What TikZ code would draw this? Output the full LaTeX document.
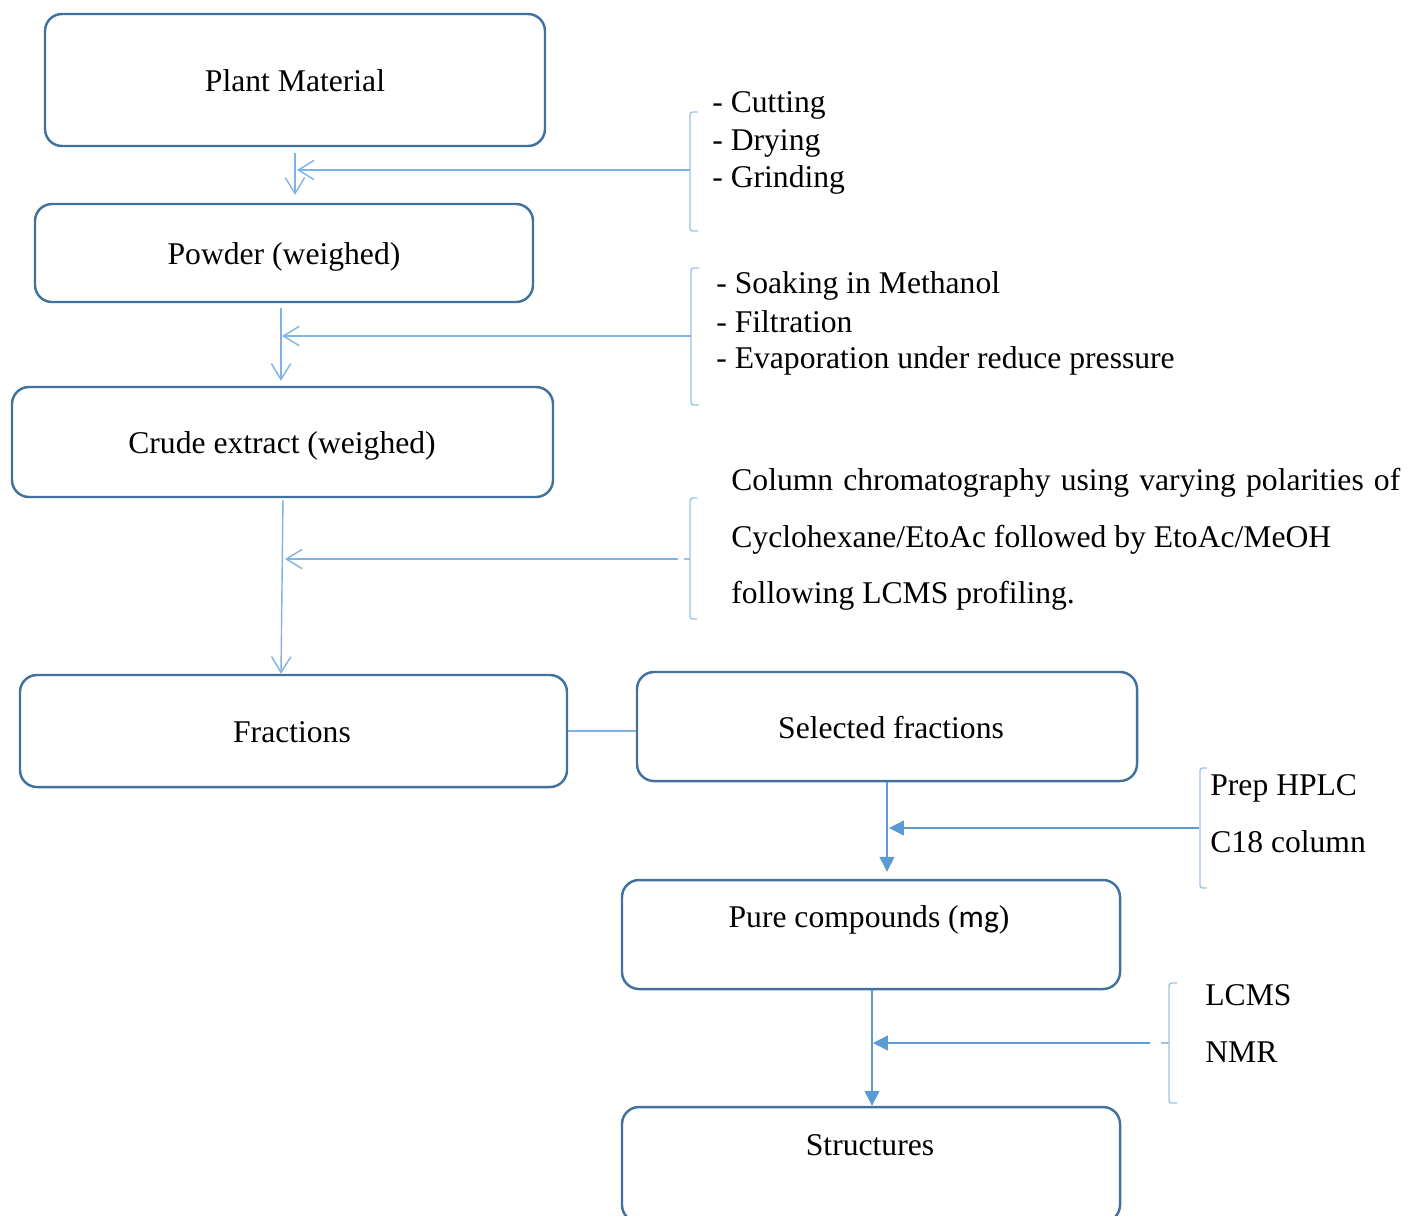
\documentclass[tikz,border=0pt]{standalone}
\usepackage{fontspec}
\setmainfont{Liberation Serif}
\newfontfamily\carl{Carlito}
\usetikzlibrary{arrows.meta,fit}
\definecolor{boxc}{HTML}{41719C}
\definecolor{linec}{HTML}{7FB2E5}
\definecolor{arrc}{HTML}{5B9BD5}
\definecolor{brc}{HTML}{9DC3E6}
\begin{document}
\begin{tikzpicture}[x=0.02cm,y=-0.02cm,
 box/.style={draw=boxc,line width=1.4pt,rounded corners=0.34cm,inner sep=0pt},
 txt/.style={inner sep=0pt,font=\fontsize{18pt}{22pt}\selectfont,text=black},
 openarr/.style={draw=linec,line width=0.8pt,-{Straight Barb[length=9pt,width=11pt]}},
 solidarr/.style={draw=arrc,line width=0.8pt,-{Triangle[length=8.5pt,width=8.5pt]}},
 plainln/.style={draw=linec,line width=0.8pt},
 brk/.style={draw=brc,line width=0.8pt,rounded corners=1.5pt},
]
\useasboundingbox (0,0) rectangle (1408,1215);

% boxes
\node[box,fit={(45,14)(545,146)}] (pm) {};
\node[box,fit={(35,204)(533,302)}] (pw) {};
\node[box,fit={(12,387)(553,497)}] (ce) {};
\node[box,fit={(20,675)(567,787)}] (fr) {};
\node[box,fit={(637,672)(1137,781)}] (sf) {};
\node[box,fit={(622,880)(1120,989)}] (pc) {};
\node[box,fit={(622,1107)(1120,1222)}] (st) {};

% box texts
\node[txt,anchor=base] (pmt) at (295,91) {Plant Material};
\node[txt,anchor=base] (pwt) at (284,264) {Powder (weighed)};
\node[txt,anchor=base] (cet) at (282,453) {Crude extract (weighed)};
\node[txt,anchor=base] (frt) at (292,742) {Fractions};
\node[txt,anchor=base] (sft) at (891,738) {Selected fractions};
\node[txt,anchor=base] (pct) at (869,927) {Pure compounds ({\carl mg})};
\node[txt,anchor=base] (stt) at (870,1155) {Structures};

% side texts
\node[txt,anchor=base west] (t1a) at (712,112) {- Cutting};
\node[txt,anchor=base west] (t1b) at (712,150) {- Drying};
\node[txt,anchor=base west] (t1c) at (712,187) {- Grinding};
\node[txt,anchor=base west] (t2a) at (716,293) {- Soaking in Methanol};
\node[txt,anchor=base west] (t2b) at (716,332) {- Filtration};
\node[txt,anchor=base west] (t2c) at (716,368) {- Evaporation under reduce pressure};
\node[txt,anchor=base west] (t3a) at (731,490) {\makebox[13.38cm][s]{Column chromatography using varying polarities of}};
\node[txt,anchor=base west] (t3b) at (731,547) {Cyclohexane/EtoAc followed by EtoAc/MeOH};
\node[txt,anchor=base west] (t3c) at (731,603) {following LCMS profiling.};
\node[txt,anchor=base west] (t5a) at (1210,795) {Prep HPLC};
\node[txt,anchor=base west] (t5b) at (1210,852) {C18 column};
\node[txt,anchor=base west] (t6a) at (1205,1005) {LCMS};
\node[txt,anchor=base west] (t6b) at (1205,1062) {NMR};

% brackets
\draw[brk] (698,112) -- (690,112) -- (690,231) -- (698,231);
\coordinate (b1) at (690,170);
\draw[brk] (699,268) -- (691,268) -- (691,405) -- (699,405);
\coordinate (b2) at (691,336);
\draw[brk] (697,498) -- (690,498) -- (690,619) -- (697,619);
\draw[brk] (684,559) -- (690,559);
\coordinate (b3) at (678,559);
\draw[brk] (1207,768) -- (1200,768) -- (1200,888) -- (1207,888);
\coordinate (b5) at (1199,828);
\draw[brk] (1177,983) -- (1169,983) -- (1169,1103) -- (1177,1103);
\draw[brk] (1161,1043) -- (1169,1043);
\coordinate (b6) at (1150,1043);

% vertical connectors
\coordinate (x1) at (295,0);
\coordinate (x2) at (281,0);
\coordinate (x3a) at (283,0);
\coordinate (x3b) at (281,0);
\coordinate (x5) at (887,0);
\coordinate (x6) at (872,0);
\draw[openarr,shorten <=0.12cm,shorten >=0.16cm] (pm.south -| x1) -- (pw.north -| x1);
\draw[openarr,shorten <=0.1cm,shorten >=0.1cm] (pw.south -| x2) -- (ce.north -| x2);
\draw[openarr,shorten <=0.04cm] (ce.south -| x3a) -- (fr.north -| x3b);
\draw[plainln] (fr.east) -- (fr.east -| sf.west);
\draw[solidarr,shorten >=0.14cm] (sf.south -| x5) -- (pc.north -| x5);
\draw[solidarr] (pc.south -| x6) -- (st.north -| x6);

% horizontal connectors
\coordinate (v1) at (297,170);
\coordinate (v2) at (282,336);
\coordinate (v3) at (285,559);
\coordinate (v5) at (889,828);
\coordinate (v6) at (873,1043);
\draw[openarr] (b1) -- (v1);
\draw[openarr] (b2) -- (v2);
\draw[openarr] (b3) -- (v3);
\draw[solidarr] (b5) -- (v5);
\draw[solidarr] (b6) -- (v6);
\end{tikzpicture}
\end{document}
